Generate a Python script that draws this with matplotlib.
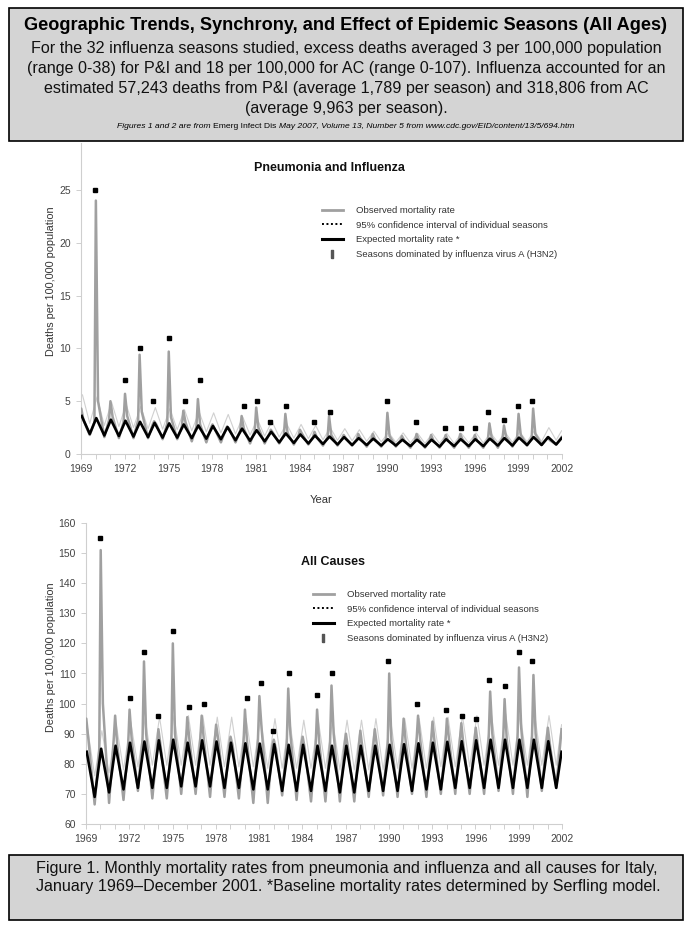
import matplotlib
matplotlib.use("Agg")
import matplotlib.pyplot as plt
from matplotlib.lines import Line2D
from matplotlib.patches import Rectangle
from matplotlib.ticker import FixedLocator, FuncFormatter

## Figure size in pixels, everything below is placed in pixel coords
W, H = 692, 927

def fx(px):
    return px / W

def fy(py):
    return 1 - py / H

NARROW = ['Liberation Sans Narrow', 'Liberation Sans', 'DejaVu Sans']
ARIAL = ['Liberation Sans', 'DejaVu Sans']

## Winter peak years (Jan of each year), one entry per year 1969..2001
years = list(range(1969, 2002))

## Pneumonia and influenza (deaths per 100,000)
pi_exp_peak = [3.6, 3.4, 3.25, 3.15, 3.05, 2.95, 2.9, 2.8, 2.7, 2.65, 2.55, 2.4, 2.25, 2.1, 1.95, 1.85, 1.75,
               1.65, 1.6, 1.5, 1.45, 1.4, 1.35, 1.35, 1.35, 1.4, 1.4, 1.4, 1.45, 1.5, 1.55, 1.6, 1.6]
pi_exp_trough = [1.9, 1.75, 1.7, 1.65, 1.6, 1.55, 1.55, 1.5, 1.45, 1.4, 1.3, 1.25, 1.2, 1.1, 1.05, 1.0, 0.95,
                 0.9, 0.85, 0.85, 0.8, 0.8, 0.75, 0.7, 0.7, 0.75, 0.75, 0.75, 0.8, 0.8, 0.85, 0.85, 0.9]
pi_exp_end = 1.5

pi_ci_peak = [5.6, 5.4, 4.9, 4.7, 4.5, 4.4, 4.3, 4.2, 4.0, 3.9, 3.75, 3.5, 3.3, 3.1, 2.9, 2.8, 2.7,
              2.5, 2.4, 2.3, 2.15, 2.05, 2.0, 1.95, 1.95, 1.95, 1.95, 2.0, 2.0, 2.05, 2.1, 2.2, 2.5]
pi_ci_trough = [2.9, 2.7, 2.6, 2.5, 2.4, 2.35, 2.3, 2.2, 2.1, 2.0, 1.9, 1.8, 1.7, 1.6, 1.5, 1.45, 1.35,
                1.3, 1.25, 1.2, 1.15, 1.1, 1.05, 1.0, 1.0, 1.0, 1.05, 1.05, 1.1, 1.1, 1.15, 1.2, 1.3]
pi_ci_end = 2.2

pi_obs_dec = [4.3, 3.0, 3.2, 3.0, 3.2, 2.8, 2.9, 2.6, 2.6, 2.5, 2.3, 2.2, 2.2, 1.9, 1.8, 1.7, 1.6,
              1.6, 1.5, 1.4, 1.4, 1.4, 1.3, 1.3, 1.3, 1.3, 1.3, 1.3, 1.4, 1.5, 1.5, 1.5, 1.4]
pi_obs_peak = [4.3, 24.0, 5.0, 5.7, 9.4, 3.1, 9.7, 4.1, 5.2, 2.8, 2.6, 3.6, 4.4, 2.3, 3.8, 2.3, 2.1,
               3.6, 1.8, 1.9, 1.9, 3.9, 1.7, 1.9, 1.8, 1.8, 1.9, 1.8, 2.9, 2.7, 3.8, 4.3, 1.6]
pi_obs_mar = [3.2, 5.0, 3.5, 3.6, 4.0, 2.8, 3.5, 3.0, 2.8, 2.4, 2.4, 2.4, 2.5, 2.0, 2.0, 1.9, 1.6,
              1.8, 1.5, 1.5, 1.4, 1.7, 1.3, 1.4, 1.3, 1.3, 1.4, 1.3, 1.6, 1.6, 1.8, 1.9, 1.3]
pi_obs_trough = [1.8, 1.6, 1.5, 1.5, 1.5, 1.4, 1.4, 1.2, 1.1, 1.1, 1.1, 1.0, 1.0, 1.0, 0.9, 0.9, 0.8,
                 0.8, 0.8, 0.7, 0.7, 0.7, 0.6, 0.6, 0.6, 0.6, 0.6, 0.6, 0.6, 0.7, 0.8, 0.9, 0.9]
pi_obs_end = 1.6

## All causes (deaths per 100,000)
ac_exp_peak = [84, 85, 86, 87, 87.4, 87.8, 88, 87, 87.8, 87.4, 87, 86.8, 86.7, 86.5, 86.3, 86.3, 86,
               86, 86, 86, 86, 86.3, 86.5, 86.8, 87, 87.3, 87.5, 87.8, 88, 88, 88, 88, 87.5]
ac_exp_trough = [69, 70.5, 71.5, 72, 72, 72, 72.5, 72.5, 72.5, 72, 72, 71.5, 71.5, 71, 71, 71, 71,
                 70.5, 70.5, 71, 71, 71, 71, 71.5, 71.5, 72, 72, 72, 72, 72, 72, 72, 72]
ac_exp_end = 84

ac_ci_peak = [92, 91, 93, 94, 95, 95.5, 96, 96, 96, 95.5, 95.5, 95, 95, 95, 95, 94.5, 94.5,
              94.5, 94.5, 94.5, 95, 95, 95, 95, 95.5, 95.5, 96, 96, 96.5, 96.5, 96.5, 96.5, 96]
ac_ci_trough = [76, 77, 78, 79, 79.5, 79.5, 79.5, 79.5, 79.5, 79, 79, 79, 78.5, 78.5, 78.5, 78.5, 78.5,
                78, 78, 78, 78, 78.5, 78.5, 78.5, 79, 79, 79, 79.5, 79.5, 79.5, 79.5, 79.5, 79.5]
ac_ci_end = 93

ac_obs_dec = [95, 85, 88, 86, 88, 85, 87, 86, 88, 87, 86, 87, 88, 86, 87, 86, 86,
              87, 86, 86, 86, 87, 87, 88, 87, 87, 88, 87, 89, 88, 89, 89, 87]
ac_obs_peak = [95, 151, 96, 98, 114, 91.5, 120, 95.5, 96, 93, 89, 98, 102.5, 88, 105, 89, 98,
               106, 90, 91, 91.5, 110, 95, 96, 94, 95, 93.5, 92, 104, 101.5, 112, 109.5, 92]
ac_obs_mar = [88, 100, 86, 88, 90, 86, 90, 88, 88, 88, 86, 87, 92, 85, 90, 85, 87,
              90, 85, 85, 86, 88, 87, 88, 87, 88, 86, 86, 90, 88, 92, 90, 86]
ac_obs_trough = [66.5, 67, 68, 71, 68.5, 68.5, 70, 70, 69, 69, 68.5, 67, 67, 69.5, 68, 67.5, 67.5,
                 67.5, 67.5, 69, 69.5, 69, 70, 69, 70, 70, 70, 70, 71, 70, 69, 71, 72]
ac_obs_end = 91.5

## Seasons dominated by A(H3N2): date of the marker and its height in each panel
h3n2_time = [1969.98, 1972.05, 1973.03, 1973.97, 1975.03, 1976.15, 1977.17, 1980.15, 1981.1, 1981.95,
             1983.08, 1985.0, 1986.05, 1989.97, 1991.97, 1993.95, 1995.1, 1996.02, 1996.95, 1998.05,
             1999.0, 1999.93]
pi_h3n2 = [25, 7, 10, 5, 11, 5, 7, 4.5, 5, 3, 4.5, 3, 4, 5, 3, 2.5, 2.5, 2.5, 4, 3.2, 4.5, 5]
ac_h3n2 = [155, 102, 117, 96, 124, 99, 100, 102, 107, 91, 110, 103, 110, 114, 100, 98, 96, 95, 108,
           106, 117, 114]

legend_labels = ["Observed mortality rate",
                 "95% confidence interval of individual seasons",
                 "Expected mortality rate *",
                 "Seasons dominated by influenza virus A (H3N2)"]


def season_path(dec, peak, mar, trough, end):
    ## observed: Dec shoulder, Jan peak, Mar shoulder, Aug trough for each year
    t, v = [], []
    for i, y in enumerate(years):
        t += [y - 0.08, y + 0.02, y + 0.17, y + 0.6]
        v += [dec[i], peak[i], mar[i], trough[i]]
    t.append(2001.97)
    v.append(end)
    return t, v


def wave_path(peak, trough, end, off):
    t, v = [], []
    for i, y in enumerate(years):
        t += [y + off, y + 0.6]
        v += [peak[i], trough[i]]
    t.append(2001.97)
    v.append(end)
    return t, v


def style_axes(ax, yticks, ylim, label_x):
    ax.set_xlim(1969, 2002)
    ax.set_ylim(*ylim)
    for s in ['top', 'right']:
        ax.spines[s].set_visible(False)
    for s in ['left', 'bottom']:
        ax.spines[s].set_color('#cfcfcf')
        ax.spines[s].set_linewidth(0.8)
    ax.xaxis.set_major_locator(FixedLocator(list(range(1969, 2003))))
    ax.xaxis.set_major_formatter(FuncFormatter(lambda x, p: str(int(round(x))) if (int(round(x)) - 1969) % 3 == 0 else ''))
    ax.set_yticks(yticks)
    ax.tick_params(direction='out', length=3.5, width=0.7, color='#cfcfcf', labelcolor='#444',
                   labelsize=7.5, pad=4)
    for lab in ax.get_xticklabels() + ax.get_yticklabels():
        lab.set_family(ARIAL)
    ax.set_ylabel("Deaths per 100,000 population", fontsize=7.8, color='#333', family=ARIAL)
    ax.yaxis.set_label_coords(label_x, 0.555)


def draw_panel(ax, ci, obs, exp, h3n2):
    ax.plot(*ci, color='#d0d0d0', lw=0.8, zorder=2)
    ax.plot(*obs, color='#a0a0a0', lw=1.8, zorder=3, solid_joinstyle='round')
    ax.plot(*exp, color='black', lw=1.9, zorder=4, solid_joinstyle='round')
    ax.plot(h3n2_time, h3n2, ls='none', marker='s', ms=2.3, color='black', zorder=5)


def add_legend(ax, x0, y0):
    bar = [(-0.35, -1), (0.35, -1), (0.35, 1), (-0.35, 1), (-0.35, -1)]
    handles = [Line2D([], [], color='#a0a0a0', lw=2),
               Line2D([], [], color='black', lw=1.4, ls=(0, (1, 1.3))),
               Line2D([], [], color='black', lw=2.2),
               Line2D([], [], ls='none', marker=bar, ms=6, color='#555')]
    leg = ax.legend(handles, legend_labels, loc='upper left', bbox_to_anchor=(fx(x0), fy(y0)),
                    bbox_transform=ax.figure.transFigure, frameon=False,
                    handlelength=2.2, handletextpad=1.4, labelspacing=0.6, borderpad=0,
                    borderaxespad=0, prop={'family': ARIAL, 'size': 6.8})
    for t in leg.get_texts():
        t.set_color('#333')


fig = plt.figure(figsize=(W / 100, H / 100), dpi=100)
fig.patch.set_facecolor('white')

## Top panel: pneumonia and influenza
ax1 = fig.add_axes([fx(81), fy(454), fx(562) - fx(81), (454 - 142.5) / H])
draw_panel(ax1,
           wave_path(pi_ci_peak, pi_ci_trough, pi_ci_end, 0.1),
           season_path(pi_obs_dec, pi_obs_peak, pi_obs_mar, pi_obs_trough, pi_obs_end),
           wave_path(pi_exp_peak, pi_exp_trough, pi_exp_end, 0.05),
           pi_h3n2)
style_axes(ax1, [0, 5, 10, 15, 20, 25], (0, 29.5), (56.5 - 81) / 481)
ax1.set_xlabel("Year", fontsize=8, color='#333', family=ARIAL, labelpad=15)
add_legend(ax1, 322, 206)
fig.text(fx(329), fy(168), "Pneumonia and Influenza", ha='center', va='center', fontsize=9,
         fontweight='bold', family=ARIAL, color='#111')

## Bottom panel: all causes
ax2 = fig.add_axes([fx(86), fy(824), fx(562) - fx(86), (824 - 523) / H])
draw_panel(ax2,
           wave_path(ac_ci_peak, ac_ci_trough, ac_ci_end, 0.1),
           season_path(ac_obs_dec, ac_obs_peak, ac_obs_mar, ac_obs_trough, ac_obs_end),
           wave_path(ac_exp_peak, ac_exp_trough, ac_exp_end, 0.05),
           ac_h3n2)
style_axes(ax2, list(range(60, 161, 10)), (60, 160), (56.5 - 86) / 476)
add_legend(ax2, 313, 590)
fig.text(fx(333), fy(562), "All Causes", ha='center', va='center', fontsize=9,
         fontweight='bold', family=ARIAL, color='#111')

## Header box
fig.add_artist(Rectangle((fx(9), fy(141)), (683 - 9) / W, (141 - 8) / H, transform=fig.transFigure,
                         fc='#d4d4d4', ec='black', lw=1.2, zorder=10))
fig.text(0.5, fy(25), "Geographic Trends, Synchrony, and Effect of Epidemic Seasons (All Ages)",
         ha='center', va='center', fontsize=13.1, fontweight='bold', family=NARROW, zorder=11)
body = ["For the 32 influenza seasons studied, excess deaths averaged 3 per 100,000 population",
        "(range 0-38) for P&I and 18 per 100,000 for AC (range 0-107). Influenza accounted for an",
        "estimated 57,243 deaths from P&I (average 1,789 per season) and 318,806 from AC",
        "(average 9,963 per season)."]
for i, line in enumerate(body):
    fig.text(0.5, fy(49 + 19.7 * i), line, ha='center', va='center', fontsize=11.6,
             family=NARROW, color='#111', zorder=11)

## Source line, mixed italic / upright
pieces = [("Figures 1 and 2 are from ", 'italic'), ("Emerg Infect Dis ", 'normal'),
          ("May 2007, Volume 13, Number 5 from www.cdc.gov/EID/content/13/5/694.htm", 'italic')]
renderer = fig.canvas.get_renderer()
txts = [fig.text(0, fy(126), s, ha='left', va='center', fontsize=6.1, style=st, family=NARROW,
                 zorder=11) for s, st in pieces]
widths = [t.get_window_extent(renderer).width for t in txts]
x = W / 2 - sum(widths) / 2
for t, w in zip(txts, widths):
    t.set_x(fx(x))
    x += w

## Footer box
fig.add_artist(Rectangle((fx(9), fy(920)), (683 - 9) / W, (920 - 855) / H, transform=fig.transFigure,
                         fc='#d4d4d4', ec='black', lw=1.2, zorder=10))
foot = ["Figure 1. Monthly mortality rates from pneumonia and influenza and all causes for Italy,",
        "January 1969\u2013December 2001. *Baseline mortality rates determined by Serfling model."]
for i, line in enumerate(foot):
    fig.text(fx(36), fy(868 + 19 * i), line, ha='left', va='center', fontsize=11.6,
             family=NARROW, color='#111', zorder=11)

fig.savefig("out.png", dpi=100)
